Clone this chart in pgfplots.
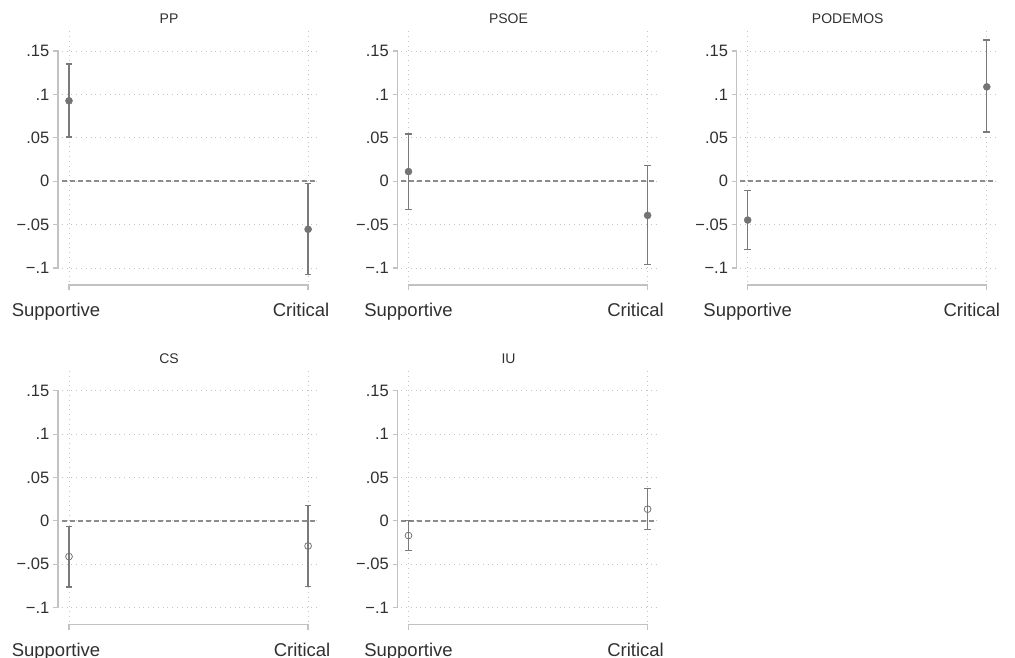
\documentclass[border=0pt]{standalone}
\usepackage{fontspec}
\setmainfont{Liberation Sans}
\usepackage{pgfplots}
\usepackage{pgfplotstable}
\pgfplotsset{compat=1.18}

\definecolor{dotc}{HTML}{747474}
\definecolor{barc}{HTML}{7A7A7A}
\definecolor{axisc}{HTML}{C2C2C2}
\definecolor{gridc}{HTML}{C4C4C4}
\definecolor{zeroc}{HTML}{8C8C8C}
\definecolor{txtc}{HTML}{303030}

% x: 0 = Supportive, 1 = Critical ; y = estimate ; lo/hi = confidence bounds
\pgfplotstableread{
x y lo hi
0 0.0926 0.0509 0.1351
1 -0.0554 -0.1071 -0.0030
}\PPdata
\pgfplotstableread{
x y lo hi
0 0.0111 -0.0325 0.0543
1 -0.0394 -0.0964 0.0184
}\PSOEdata
\pgfplotstableread{
x y lo hi
0 -0.0448 -0.0788 -0.0107
1 0.1087 0.0566 0.1627
}\PODEMOSdata
\pgfplotstableread{
x y lo hi
0 -0.0411 -0.0762 -0.0062
1 -0.0289 -0.0758 0.0181
}\CSdata
\pgfplotstableread{
x y lo hi
0 -0.0169 -0.0339 0.0004
1 0.0135 -0.0096 0.0377
}\IUdata

\pgfplotsset{
  every axis title shift=0pt,
  panel/.style={
    scale only axis, width=255pt, height=251.7pt,
    xmin=-0.0305, xmax=1.036, ymin=-0.1158, ymax=0.1742,
    axis line style={draw=none}, major tick length=0pt,
    xtick={0,1},
    ytick={-0.1,-0.05,0,0.05,0.1,0.15},
    yticklabels={−.1,−.05,0,.05,.1,.15},
    grid=major,
    major grid style={gridc, line width=0.8pt, dash pattern=on 0.8pt off 4pt},
    yticklabel style={anchor=east, inner sep=0pt, xshift=-12.2pt,
      font=\fontsize{16.5}{16.5}\selectfont, text=txtc},
    xticklabel style={anchor=north, inner sep=0pt, yshift=-21pt,
      font=\fontsize{18.5}{18.5}\selectfont, text=txtc},
    title style={at={(rel axis cs:0.4208,1)}, anchor=south, inner sep=0pt,
      yshift=6pt, font=\fontsize{14}{14}\selectfont, text=txtc},
    clip=false,
    anchor=south west,
  },
  filledpt/.style={mark=*, mark size=3.5pt, mark options={draw=dotc, fill=dotc, line width=0.5pt}},
  openpt/.style={mark=o, mark size=3.4pt, mark options={draw=dotc, fill=white, line width=0.8pt}},
}

% #1 x, #2 y, #3 title, #4 table, #5 marker style, #6 hspace Supportive, #7 hspace Critical
\newcommand{\panel}[7]{%
\begin{axis}[panel, at={(#1pt,#2pt)}, title={#3},
  xticklabels={{\hspace*{#6}Supportive},{\hspace*{#7}Critical}}]
  \addplot[zeroc, line width=1.8pt, dash pattern=on 5pt off 3pt, forget plot]
    coordinates {(-0.0305,0) (1.036,0)};
  \addplot[only marks, #5,
    error bars/.cd, y dir=both, y explicit, error mark=-,
    error bar style={line width=1.2pt, color=barc},
    error mark options={rotate=90, line width=1.2pt, mark size=3.35pt, color=barc}]
    table[x=x, y=y,
      y error plus expr=\thisrow{hi}-\thisrow{y},
      y error minus expr=\thisrow{y}-\thisrow{lo}] {#4};
  % Stata-style offset axes
  \draw[axisc, line width=1.2pt]
    (axis cs:-0.0669,0.15) -- (axis cs:-0.046,0.15) -- (axis cs:-0.046,-0.1) -- (axis cs:-0.0669,-0.1)
    (axis cs:-0.0669,0.1) -- (axis cs:-0.046,0.1)
    (axis cs:-0.0669,0.05) -- (axis cs:-0.046,0.05)
    (axis cs:-0.0669,0) -- (axis cs:-0.046,0)
    (axis cs:-0.0669,-0.05) -- (axis cs:-0.046,-0.05);
  \draw[axisc, line width=1.2pt]
    (axis cs:0,-0.1254) -- (axis cs:0,-0.1196) -- (axis cs:1,-0.1196) -- (axis cs:1,-0.1254);
\end{axis}}

\begin{document}
\begin{tikzpicture}
\useasboundingbox (0,0) rectangle (1015pt,657pt);
\panel{61.7}{375.3}{PP}{\PPdata}{filledpt}{-26pt}{-14pt}
\panel{401.2}{375.3}{PSOE}{\PSOEdata}{filledpt}{0pt}{-24pt}
\panel{740.4}{375.3}{PODEMOS}{\PODEMOSdata}{filledpt}{0pt}{-30pt}
\panel{61.7}{35.6}{CS}{\CSdata}{openpt}{-26pt}{-12pt}
\panel{401.2}{35.6}{IU}{\IUdata}{openpt}{0pt}{-24pt}
\end{tikzpicture}
\end{document}
